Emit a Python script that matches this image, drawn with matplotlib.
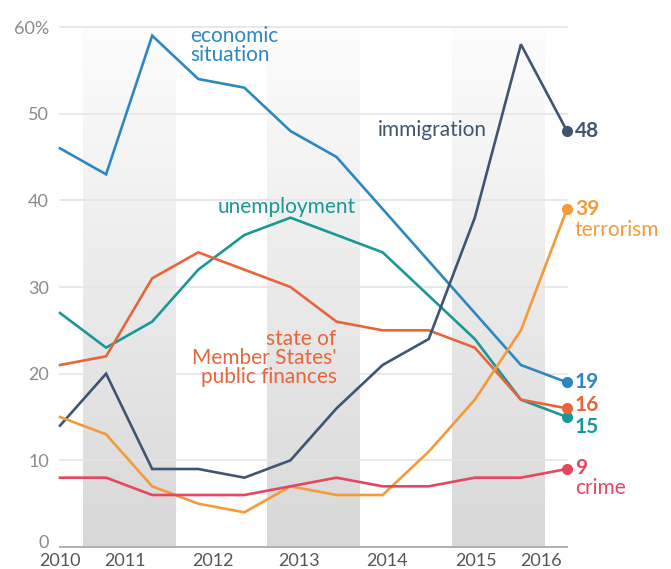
import matplotlib

matplotlib.use("Agg")
import matplotlib.pyplot as plt
import matplotlib.transforms as mtransforms
import numpy as np
from matplotlib.colors import LinearSegmentedColormap

plt.rcParams["font.family"] = ["Lato", "DejaVu Sans"]

# twelve survey waves, 2010 - 2016
waves = list(range(12))
year_labels = ["2010", "2011", "2012", "2013", "2014", "2015", "2016"]
year_positions = [0, 1.41, 3.32, 5.18, 7.09, 9.02, 10.43]
shaded_spans = [(0.5, 2.5), (4.5, 6.5), (8.5, 10.5)]

economic = [46, 43, 59, 54, 53, 48, 45, 39, 33, 27, 21, 19]
unemployment = [27, 23, 26, 32, 36, 38, 36, 34, 29, 24, 17, 15]
public_finances = [21, 22, 31, 34, 32, 30, 26, 25, 25, 23, 17, 16]
immigration = [14, 20, 9, 9, 8, 10, 16, 21, 24, 38, 58, 48]
terrorism = [15, 13, 7, 5, 4, 7, 6, 6, 11, 17, 25, 39]
crime = [8, 8, 6, 6, 6, 7, 8, 7, 7, 8, 8, 9]

BLUE = "#2b88c2"
TEAL = "#199896"
RED_ORANGE = "#e8653a"
SLATE = "#3f5572"
ORANGE = "#f39b3b"
CRIME = "#e4475e"

LABEL_SIZE = 15
VALUE_SIZE = 15

fig = plt.figure(figsize=(6.71, 5.69), dpi=100)
ax = fig.add_axes([60 / 671, 22 / 569, 507 / 671, 520 / 569])

# gradient year bands, darker towards the bottom
band_cmap = LinearSegmentedColormap.from_list("band", ["#fdfdfd", "#d8d8d8"])
grad = np.linspace(1, 0, 256).reshape(-1, 1)
for x0, x1 in shaded_spans:
    ax.imshow(grad, extent=[x0, x1, 0, 60], cmap=band_cmap, aspect="auto",
              origin="lower", zorder=0, vmin=0, vmax=1)
ax.set_ylim(0, 60)
ax.set_xlim(0, 11)

for y in [10, 20, 30, 40, 50, 60]:
    ax.axhline(y, color="#e4e4e4", lw=1.2, zorder=1, clip_on=False)
ax.axhline(0, color="#b0b0b0", lw=1.4, zorder=1, clip_on=False)

series = [
    (economic, BLUE),
    (unemployment, TEAL),
    (public_finances, RED_ORANGE),
    (immigration, SLATE),
    (terrorism, ORANGE),
    (crime, CRIME),
]
for values, color in series:
    ax.plot(waves, values, color=color, lw=1.9, zorder=3, clip_on=False,
            solid_joinstyle="miter")
    ax.plot(waves[-1], values[-1], "o", color=color, ms=7, zorder=4,
            clip_on=False)

for spine in ax.spines.values():
    spine.set_visible(False)

ax.set_yticks([0, 10, 20, 30, 40, 50, 60])
ax.set_yticklabels(["0", "10", "20", "30", "40", "50", "60%"])
ax.set_xticks(year_positions)
ax.set_xticklabels(year_labels)
ax.tick_params(axis="y", length=0, pad=8, labelsize=13, labelcolor="#8a8a8a")
ax.tick_params(axis="x", length=0, pad=4, labelsize=13, labelcolor="#555555")

# lift the "0" label a little off the baseline
zero_label = ax.get_yticklabels()[0]
zero_label.set_transform(zero_label.get_transform() + mtransforms.ScaledTranslation(0, 6 / 100, fig.dpi_scale_trans))

# series labels
ax.text(2.82, 57.9, "economic\nsituation", color=BLUE, fontsize=LABEL_SIZE,
        ha="left", va="center", linespacing=0.95)
ax.text(4.92, 39.2, "unemployment", color=TEAL, fontsize=LABEL_SIZE,
        ha="center", va="center")
ax.text(8.07, 48.1, "immigration", color=SLATE, fontsize=LABEL_SIZE,
        ha="center", va="center")
ax.text(6.0, 21.8, "state of\nMember States'\npublic finances", color=RED_ORANGE,
        fontsize=LABEL_SIZE, ha="right", va="center", multialignment="right",
        linespacing=0.95)

# end values
end_x = 11.17
ends = [
    ("48", 48.0, SLATE),
    ("39", 39.0, ORANGE),
    ("19", 19.0, BLUE),
    ("16", 16.4, RED_ORANGE),
    ("15", 13.9, TEAL),
    ("9", 9.1, CRIME),
]
for text, y, color in ends:
    ax.text(end_x, y, text, color=color, fontsize=VALUE_SIZE, fontweight="bold",
            ha="left", va="center", clip_on=False)
ax.text(end_x, 36.6, "terrorism", color=ORANGE, fontsize=LABEL_SIZE,
        ha="left", va="center", clip_on=False)
ax.text(end_x, 6.8, "crime", color=CRIME, fontsize=LABEL_SIZE,
        ha="left", va="center", clip_on=False)

fig.savefig("out.png", dpi=100)
